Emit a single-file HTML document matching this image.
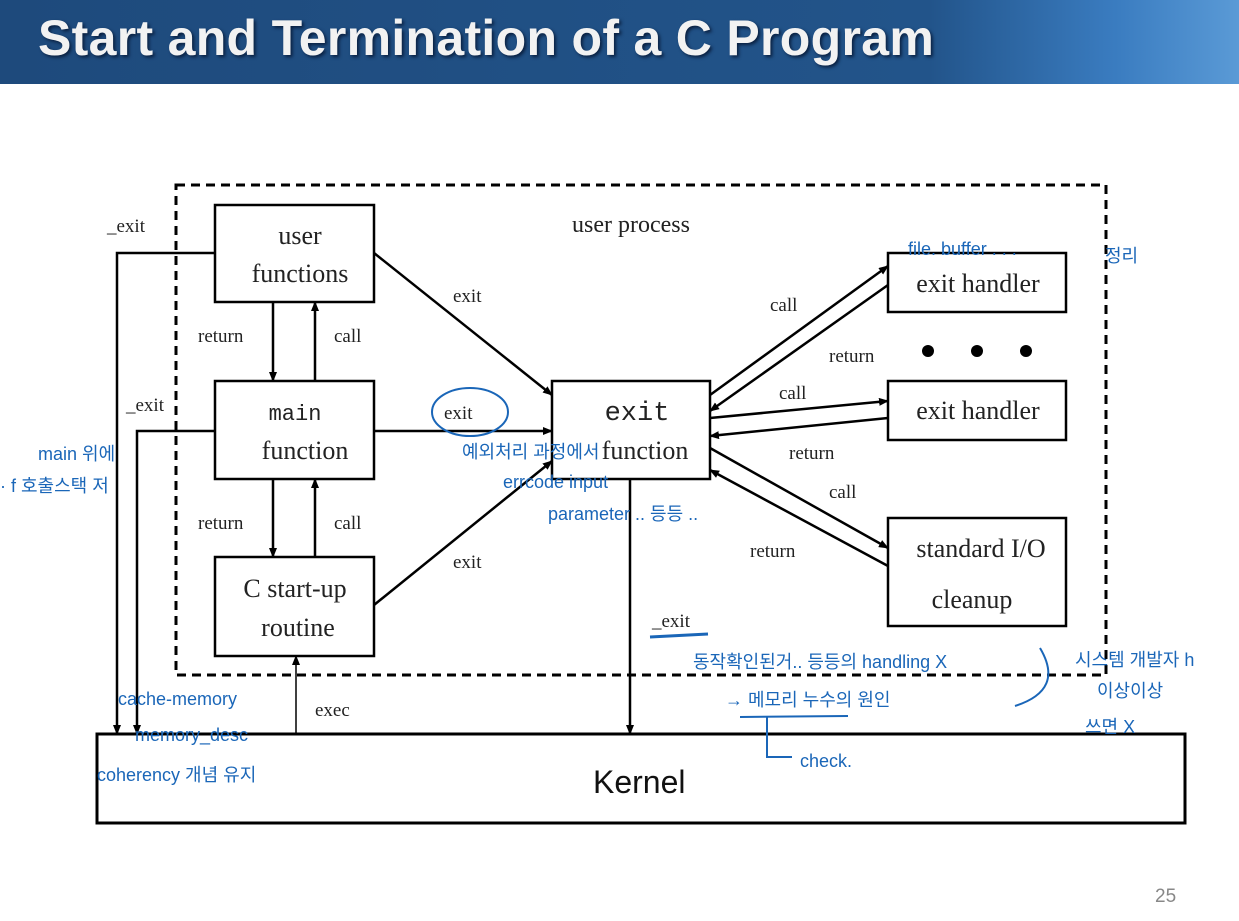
<!DOCTYPE html>
<html><head><meta charset="utf-8"><style>
html,body{margin:0;padding:0;background:#fff;}
body{width:1239px;height:921px;overflow:hidden;position:relative;}
.hdr{position:absolute;left:0;top:0;width:1239px;height:84px;background:linear-gradient(90deg,#1e4a7c 0%,#22548a 75%,#3a7cc0 90%,#5a9ad6 100%);}
.hdr h1{position:absolute;left:38px;top:9px;margin:0;font:bold 50px "Liberation Sans",sans-serif;letter-spacing:0.3px;color:#f2f2f2;text-shadow:2px 2px 3px #0a2040;}
svg{position:absolute;left:0;top:0;}
.s{font-family:"Liberation Serif",serif;fill:#222;}
.h{font-family:"Liberation Sans","Noto Sans CJK KR",sans-serif;fill:#1a66b8;}
</style></head><body>
<div class="hdr"><h1>Start and Termination of a C Program</h1></div>
<svg width="1239" height="921" viewBox="0 0 1239 921">
<defs><marker id="a" markerWidth="10" markerHeight="8" refX="9" refY="4" orient="auto" markerUnits="userSpaceOnUse"><path d="M0,0 L10,4 L0,8z" fill="#000"/></marker></defs>
<g stroke="#000" fill="none">
<rect x="176" y="185" width="930" height="490" stroke-width="3" stroke-dasharray="9,6"/>
<rect x="215" y="205" width="159" height="97" stroke-width="2.5" fill="#fff"/>
<rect x="215" y="381" width="159" height="98" stroke-width="2.5" fill="#fff"/>
<rect x="215" y="557" width="159" height="99" stroke-width="2.5" fill="#fff"/>
<rect x="552" y="381" width="158" height="98" stroke-width="2.5" fill="#fff"/>
<rect x="888" y="253" width="178" height="59" stroke-width="2.5" fill="#fff"/>
<rect x="888" y="381" width="178" height="59" stroke-width="2.5" fill="#fff"/>
<rect x="888" y="518" width="178" height="108" stroke-width="2.5" fill="#fff"/>
<rect x="97" y="734" width="1088" height="89" stroke-width="3" fill="#fff"/>
<g stroke-width="2.5" marker-end="url(#a)">
<polyline points="215,253 117,253 117,734"/>
<polyline points="215,431 137,431 137,734"/>
<line x1="273" y1="302" x2="273" y2="381"/>
<line x1="315" y1="381" x2="315" y2="302"/>
<line x1="273" y1="479" x2="273" y2="557"/>
<line x1="315" y1="557" x2="315" y2="479"/>
<line x1="374" y1="253" x2="552" y2="395"/>
<line x1="374" y1="431" x2="552" y2="431"/>
<line x1="374" y1="605" x2="552" y2="461"/>
<line x1="710" y1="395" x2="888" y2="266"/>
<line x1="888" y1="285" x2="710" y2="411"/>
<line x1="710" y1="418" x2="888" y2="401"/>
<line x1="888" y1="418" x2="710" y2="436"/>
<line x1="710" y1="448" x2="888" y2="548"/>
<line x1="888" y1="566" x2="710" y2="470"/>
<line x1="630" y1="479" x2="630" y2="734"/>
<line x1="296" y1="734" x2="296" y2="656" stroke-width="1.5"/>
</g>
</g>
<g fill="#000"><circle cx="928" cy="351" r="6"/><circle cx="977" cy="351" r="6"/><circle cx="1026" cy="351" r="6"/></g>
<g class="s" font-size="19">
<text x="107" y="232">_exit</text><text x="126" y="411">_exit</text>
<text x="572" y="232" font-size="24">user process</text>
<text x="198" y="342">return</text><text x="334" y="342">call</text>
<text x="198" y="529">return</text><text x="334" y="529">call</text>
<text x="453" y="302">exit</text><text x="444" y="419">exit</text><text x="453" y="568">exit</text>
<text x="315" y="716">exec</text>
<text x="770" y="311">call</text><text x="829" y="362">return</text>
<text x="779" y="399">call</text><text x="789" y="459">return</text>
<text x="829" y="498">call</text><text x="750" y="557">return</text>
<text x="652" y="627">_exit</text>
</g>
<g class="s" font-size="26" text-anchor="middle">
<text x="300" y="244">user</text><text x="300" y="282">functions</text>
<text x="295" y="420" font-family="Liberation Mono,monospace" font-size="22">main</text><text x="305" y="459">function</text>
<text x="295" y="597">C start-up</text><text x="298" y="636">routine</text>
<text x="637" y="420" font-family="Liberation Mono,monospace" font-size="27">exit</text><text x="645" y="459">function</text>
<text x="978" y="292">exit handler</text><text x="978" y="419">exit handler</text>
<text x="981" y="557">standard I/O</text><text x="972" y="608">cleanup</text>
</g>
<text x="593" y="793" font-family="Liberation Sans,sans-serif" font-size="32" fill="#111">Kernel</text>
<text x="1155" y="902" font-family="Liberation Sans,sans-serif" font-size="19" fill="#888">25</text>
<g stroke="#1a66b8" stroke-width="2" fill="none">
<ellipse cx="470" cy="412" rx="38" ry="24"/>
<line x1="650" y1="637" x2="708" y2="634" stroke-width="3"/>
<line x1="740" y1="717" x2="848" y2="716"/>
<polyline points="767,716 767,757 792,757"/>
<path d="M1040,648 Q1065,690 1015,706"/>
</g>
<g class="h" font-size="18">
<text x="908" y="255">file. buffer . . .</text><text x="1105" y="262">정리</text>
<text x="38" y="460">main 위에</text><text x="0" y="492">· f 호출스택 저</text>
<text x="462" y="458">예외처리 과정에서</text><text x="503" y="488">errcode input</text><text x="548" y="520">parameter .. 등등 ..</text>
<text x="693" y="668">동작확인된거.. 등등의 handling X</text>
<text x="1075" y="666">시스템 개발자 h</text><text x="1097" y="697">이상이상</text><text x="1085" y="733">쓰면 X</text>
<text x="725" y="706">→ 메모리 누수의 원인</text>
<text x="800" y="767">check.</text>
<text x="118" y="705">cache-memory</text><text x="135" y="741">memory_desc</text><text x="97" y="781">coherency 개념 유지</text>
</g>
</svg>
</body></html>
